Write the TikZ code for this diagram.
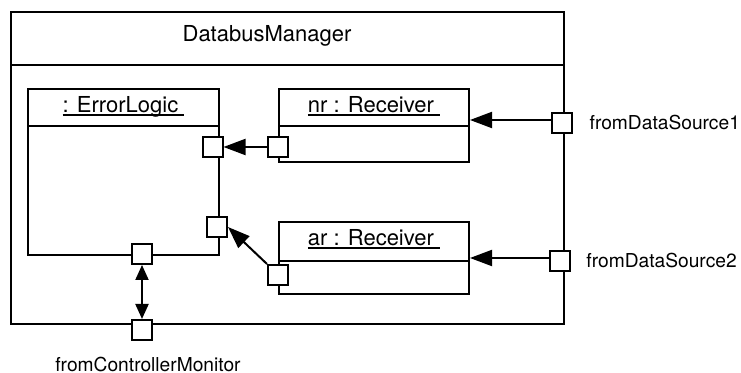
\documentclass[tikz,border=0pt]{standalone}
\usepackage{fontspec}
\setmainfont{TeX Gyre Heros}
\usetikzlibrary{arrows.meta,positioning,calc}

% object name, underlined a little past its end
\newcommand{\objname}[1]{\setbox0=\hbox{#1\ }\rlap{\rule[-1.5pt]{\wd0}{0.8pt}}\box0}

\begin{document}
\begin{tikzpicture}[x=0.5pt,y=-0.5pt,
  part/.style={draw,line width=1pt,inner sep=0pt,anchor=north west},
  port/.style={draw,fill=white,line width=1pt,minimum size=10pt,inner sep=0pt},
  sep/.style={line width=1pt},
  head/.style={font=\fontsize{11}{13}\selectfont,anchor=base},
  tag/.style={font=\fontsize{9.6}{12}\selectfont},
  flow/.style={line width=1pt,-{Triangle[length=11pt,width=8pt]}},
  link/.style={line width=1pt,{Triangle[length=7.5pt,width=6.5pt]}-{Triangle[length=7.5pt,width=6.5pt]}}
]
\useasboundingbox (0,0) rectangle (741,373);

% enclosing component
\node[part,minimum width=276.5pt,minimum height=156pt] (dbm) at (10,11) {};
\draw[sep] ([yshift=-27pt]dbm.north west) -- ([yshift=-27pt]dbm.north east);
\node[head] (dbmname) at (267,42) {DatabusManager};

% parts
\node[part,minimum width=95.5pt,minimum height=83pt] (el) at (27,88) {};
\draw[sep] ([yshift=-19pt]el.north west) -- ([yshift=-19pt]el.north east);
\node[head] (elname) at (el.north |- 0,113) {\objname{: ErrorLogic}};

\node[part,minimum width=95pt,minimum height=36.5pt] (nr) at (278,88) {};
\draw[sep] ([yshift=-19pt]nr.north west) -- ([yshift=-19pt]nr.north east);
\node[head] (nrname) at (nr.north |- 0,113) {\objname{nr : Receiver}};

\node[part,minimum width=95pt,minimum height=36pt] (ar) at (278,221) {};
\draw[sep] ([yshift=-20pt]ar.north west) -- ([yshift=-20pt]ar.north east);
\node[head] (arname) at (ar.north |- 0,246) {\objname{ar : Receiver}};

% ports
\node[port] (elp1) at (212.5,147) {};
\node[port] (elp2) at (217,227) {};
\node[port] (elp3) at (142,254) {};
\node[port] (nrp) at (278,147) {};
\node[port] (arp) at (278,275) {};
\node[port] (ds1p) at (562,123) {};
\node[port] (ds2p) at (560,261) {};
\node[port] (cmp) at (142,330) {};

\node[tag,right=4.8pt of ds1p] (ds1) {fromDataSource1};
\node[tag,right=4.2pt of ds2p] (ds2) {fromDataSource2};
\node[tag,below=4.6pt of cmp,xshift=3pt] (cm) {fromControllerMonitor};

% connectors
\draw[flow] ([yshift=1.5pt]ds1p.west) -- ([yshift=1.5pt]ds1p.west -| nr.east);
\draw[flow] ([yshift=1.5pt]ds2p.west) -- ([yshift=1.5pt]ds2p.west -| ar.east);
\draw[flow] (nrp) -- (elp1);
\draw[flow] (arp.north west) -- (elp2.east);
\draw[link] (elp3) -- (cmp);
\end{tikzpicture}
\end{document}
